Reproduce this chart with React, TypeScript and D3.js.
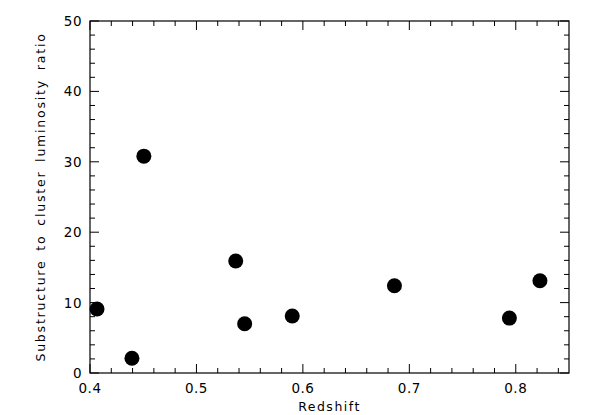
import React from "react";
import * as d3 from "d3";

// redshift vs substructure / cluster luminosity ratio
const redshift = [0.4066, 0.4394, 0.4506, 0.5369, 0.5453, 0.59, 0.686, 0.794, 0.8227];
const ratio = [9.1, 2.1, 30.8, 15.9, 7.0, 8.1, 12.4, 7.8, 13.1];

const xTicks = [0.4, 0.5, 0.6, 0.7, 0.8];
const yTicks = [0, 10, 20, 30, 40, 50];

const width = 600;
const height = 415;
const margin = { top: 21, right: 31, bottom: 42, left: 90 };
const font = "'DejaVu Sans', sans-serif";

const App = () => {
  const x = d3
    .scaleLinear()
    .domain([0.4, 0.85])
    .range([margin.left, width - margin.right]);
  const y = d3
    .scaleLinear()
    .domain([0, 50])
    .range([height - margin.bottom, margin.top]);

  const [x0, x1] = x.range();
  const [y0, y1] = y.range(); // y0 bottom, y1 top

  // minor ticks every 0.02 / 2
  const xMinor = d3.range(0.4, 0.851, 0.02);
  const yMinor = d3.range(0, 50.01, 2);
  const major = 9;
  const minor = 5;

  return (
    <svg
      width={width}
      height={height}
      style={{ position: "absolute", left: 0, top: 0, background: "#fff" }}
    >
      <rect x={x0} y={y1} width={x1 - x0} height={y0 - y1} fill="none" stroke="#000" strokeWidth={1.2} />

      {/* x ticks bottom & top */}
      {xMinor.map((t, i) => {
        const isMajor = xTicks.some((m) => Math.abs(m - t) < 1e-6);
        const len = isMajor ? major : minor;
        return (
          <g key={"xt" + i} stroke="#000" strokeWidth={1}>
            <line x1={x(t)} x2={x(t)} y1={y0} y2={y0 - len} />
            <line x1={x(t)} x2={x(t)} y1={y1} y2={y1 + len} />
          </g>
        );
      })}

      {/* y ticks left & right */}
      {yMinor.map((t, i) => {
        const isMajor = yTicks.some((m) => Math.abs(m - t) < 1e-6);
        const len = isMajor ? major : minor;
        return (
          <g key={"yt" + i} stroke="#000" strokeWidth={1}>
            <line x1={x0} x2={x0 + len} y1={y(t)} y2={y(t)} />
            <line x1={x1} x2={x1 - len} y1={y(t)} y2={y(t)} />
          </g>
        );
      })}

      {xTicks.map((t) => (
        <text
          key={"xl" + t}
          x={x(t)}
          y={y0 + 20}
          textAnchor="middle"
          fontFamily={font}
          fontSize={13.5}
          letterSpacing={0.5}
          fill="#000"
        >
          {t.toFixed(1)}
        </text>
      ))}

      {yTicks.map((t) => (
        <text
          key={"yl" + t}
          x={x0 - 8}
          y={y(t) + 5}
          textAnchor="end"
          fontFamily={font}
          fontSize={13.5}
          letterSpacing={0.5}
          fill="#000"
        >
          {t}
        </text>
      ))}

      <text
        x={(x0 + x1) / 2}
        y={height - 4}
        textAnchor="middle"
        fontFamily={font}
        fontSize={12.5}
        letterSpacing={1.5}
        fill="#000"
      >
        Redshift
      </text>
      <text
        transform={`translate(45,${(y0 + y1) / 2}) rotate(-90)`}
        textAnchor="middle"
        fontFamily={font}
        fontSize={12.5}
        letterSpacing={1.8}
        wordSpacing={3}
        fill="#000"
      >
        Substructure to cluster luminosity ratio
      </text>

      {redshift.map((z, i) => (
        <circle key={"p" + i} cx={x(z)} cy={y(ratio[i])} r={7.5} fill="#000" />
      ))}
    </svg>
  );
};

export default App;
